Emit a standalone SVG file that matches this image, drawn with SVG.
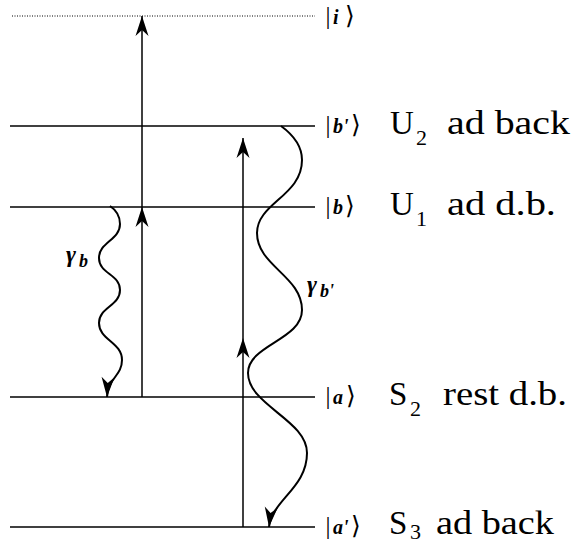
<svg xmlns="http://www.w3.org/2000/svg" width="573" height="544" viewBox="0 0 573 544">
<style>
.lvl{stroke:#000;stroke-width:1.3;fill:none}
.dot{stroke:#000;stroke-width:1;stroke-dasharray:1 1.5;fill:none}
.arr{stroke:#000;stroke-width:1.5;fill:none;marker-end:url(#ah)}
.wave{stroke:#000;stroke-width:2;fill:none;marker-end:url(#ah)}
text{font-family:"Liberation Serif","Times New Roman",serif;fill:#000}
.big{font-size:33px}
.sub{font-size:22px}
.bar{font-size:25px}
.br{font-size:25px;font-family:"Liberation Serif","DejaVu Serif",serif}
.kl{font-size:20px;font-weight:bold;font-style:italic}
.gam{font-weight:bold;font-style:italic}
</style>
<defs>
<marker id="ah" markerUnits="userSpaceOnUse" markerWidth="22" markerHeight="14" refX="20" refY="7" orient="auto" overflow="visible">
<path d="M0,0.5 L20,7 L0,13.5 L6,7 Z" fill="#000"/>
</marker>
</defs>
<g id="level-i">
<line class="dot" x1="12" y1="16" x2="315" y2="16"/>
<text class="bar" x="325.5" y="24">|</text><text class="kl" x="333" y="24">i</text><text class="br" x="345" y="24">⟩</text>
</g>
<g id="level-b2">
<line class="lvl" x1="10" y1="126" x2="315" y2="126"/>
<text class="bar" x="325.5" y="133">|</text><text class="kl" x="333" y="133">b'</text><text class="br" x="351" y="133">⟩</text>
<text class="big" x="390" y="134">U</text><text class="sub" x="416" y="145">2</text><text class="big" x="447" y="134" textLength="123" lengthAdjust="spacingAndGlyphs">ad back</text>
</g>
<g id="level-b">
<line class="lvl" x1="10" y1="207" x2="315" y2="207"/>
<text class="bar" x="325.5" y="214">|</text><text class="kl" x="333" y="214">b</text><text class="br" x="345" y="214">⟩</text>
<text class="big" x="390" y="215">U</text><text class="sub" x="416" y="226">1</text><text class="big" x="447" y="215" textLength="109" lengthAdjust="spacingAndGlyphs">ad d.b.</text>
</g>
<g id="level-a">
<line class="lvl" x1="10" y1="397" x2="315" y2="397"/>
<text class="bar" x="325.5" y="404">|</text><text class="kl" x="333" y="404">a</text><text class="br" x="346" y="404">⟩</text>
<text class="big" x="389" y="405">S</text><text class="sub" x="410" y="416">2</text><text class="big" x="443" y="405" textLength="124" lengthAdjust="spacingAndGlyphs">rest d.b.</text>
</g>
<g id="level-a2">
<line class="lvl" x1="10" y1="527" x2="315" y2="527"/>
<text class="bar" x="325.5" y="534">|</text><text class="kl" x="333" y="534">a'</text><text class="br" x="351" y="534">⟩</text>
<text class="big" x="389" y="534">S</text><text class="sub" x="410" y="539">3</text><text class="big" x="436" y="534" textLength="118" lengthAdjust="spacingAndGlyphs">ad back</text>
</g>
<g id="connectors">
<line class="arr" x1="142" y1="397" x2="142" y2="207"/>
<line class="arr" x1="142" y1="207" x2="142" y2="16"/>
<line class="arr" x1="243" y1="527" x2="243" y2="338"/>
<line class="arr" x1="243" y1="338" x2="243" y2="138"/>
<path class="wave" d="M110,206 C116,210 120,216 120,224 C120,240 99,242 99,258 C99,274 120,274 120,290 C120,306 99,307 99,323 C99,340 122,342 122,360 C122,376 108,378 107,397"/>
<path class="wave" d="M281,126 C292,134 302,146 302,160 C302,196 257,203 257,233 C257,266 302,276 302,310 C302,340 248,345 248,373 C248,405 307,420 307,453 C307,488 272,500 269,527"/>
<text class="gam" x="66" y="262" font-size="24">γ</text><text class="gam" x="79" y="267" font-size="18">b</text>
<text class="gam" x="307" y="292" font-size="24">γ</text><text class="gam" x="320" y="297" font-size="18">b'</text>
</g>
</svg>
